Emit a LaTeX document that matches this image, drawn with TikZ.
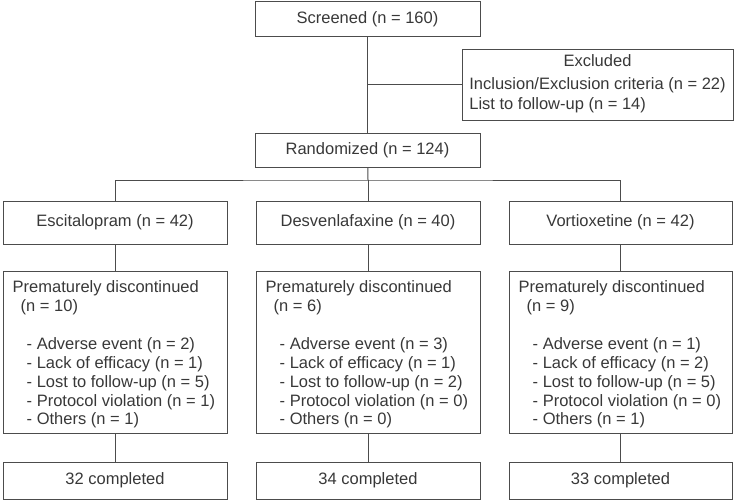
\documentclass[tikz,border=0pt]{standalone}
\usepackage{fontspec}
\setmainfont{Liberation Sans}
\definecolor{ink}{gray}{0.22}
\definecolor{edge}{gray}{0.3}
\begin{document}
\begin{tikzpicture}[x=1pt,y=-1pt,
  box/.style={draw=edge, line width=1pt, inner sep=0pt, text=ink, font=\fontsize{16.5}{19}\selectfont},
  txt/.style={inner sep=0pt, text=ink, align=left, anchor=north west, font=\fontsize{16.5}{18.9}\selectfont},
  conn/.style={draw=edge, line width=1pt}]
\useasboundingbox (0,0) rectangle (735,500);
\node[box, minimum width=225pt, minimum height=35pt] (scr) at (367.5,19.5) {Screened (n = 160)};
\node[box, minimum width=271pt, minimum height=70pt, align=center] (exc) at (597.5,85)
  {Excluded\\[7pt]\renewcommand{\arraystretch}{1.05}\begin{tabular}{@{}l@{}}Inclusion/Exclusion criteria (n = 22)\\List to follow-up (n = 14)\end{tabular}};
\node[box, minimum width=225pt, minimum height=34pt] (rnd) at (367.5,150) {Randomized (n = 124)};
\node[box, minimum width=224pt, minimum height=43pt] (esc) at (115,222.5) {Escitalopram (n = 42)};
\node[box, minimum width=224pt, minimum height=43pt] (des) at (368,222.5) {Desvenlafaxine (n = 40)};
\node[box, minimum width=223pt, minimum height=43pt] (vor) at (620.5,222.5) {Vortioxetine (n = 42)};
\node[box, minimum width=224pt, minimum height=162pt] (escd) at (115,352) {};
\node[box, minimum width=224pt, minimum height=162pt] (desd) at (368,352) {};
\node[box, minimum width=223pt, minimum height=162pt] (vord) at (620.5,352) {};
\node[box, minimum width=224pt, minimum height=37pt] (escc) at (115,480.5) {32 completed};
\node[box, minimum width=224pt, minimum height=37pt] (desc) at (368,480.5) {34 completed};
\node[box, minimum width=223pt, minimum height=37pt] (vorc) at (620.5,480.5) {33 completed};
\node[txt] (esct) at ([xshift=10pt,yshift=-10pt]escd.north west)
  {Prematurely discontinued\\\hspace*{8pt}(n = 10)\\[18.9pt]
   \hspace*{14pt}- Adverse event (n = 2)\\\hspace*{14pt}- Lack of efficacy (n = 1)\\
   \hspace*{14pt}- Lost to follow-up (n = 5)\\\hspace*{14pt}- Protocol violation (n = 1)\\
   \hspace*{14pt}- Others (n = 1)};
\node[txt] (dest) at ([xshift=10pt,yshift=-10pt]desd.north west)
  {Prematurely discontinued\\\hspace*{8pt}(n = 6)\\[18.9pt]
   \hspace*{14pt}- Adverse event (n = 3)\\\hspace*{14pt}- Lack of efficacy (n = 1)\\
   \hspace*{14pt}- Lost to follow-up (n = 2)\\\hspace*{14pt}- Protocol violation (n = 0)\\
   \hspace*{14pt}- Others (n = 0)};
\node[txt] (vort) at ([xshift=10pt,yshift=-10pt]vord.north west)
  {Prematurely discontinued\\\hspace*{8pt}(n = 9)\\[18.9pt]
   \hspace*{14pt}- Adverse event (n = 1)\\\hspace*{14pt}- Lack of efficacy (n = 2)\\
   \hspace*{14pt}- Lost to follow-up (n = 5)\\\hspace*{14pt}- Protocol violation (n = 0)\\
   \hspace*{14pt}- Others (n = 1)};
\coordinate (br) at (368,180);
\draw[conn] (scr) -- (rnd);
\draw[conn] (exc.west) -- (exc.west -| scr);
\draw[conn] (rnd) -- (br);
\draw[conn] (esc.north) |- (br) -| (vor.north);
\draw[conn] (br) -- (des.north);
\draw[conn] (esc) -- (escd);
\draw[conn] (des) -- (desd);
\draw[conn] (vor) -- (vord);
\draw[conn] (escd) -- (escc);
\draw[conn] (desd) -- (desc);
\draw[conn] (vord) -- (vorc);
\end{tikzpicture}
\end{document}
